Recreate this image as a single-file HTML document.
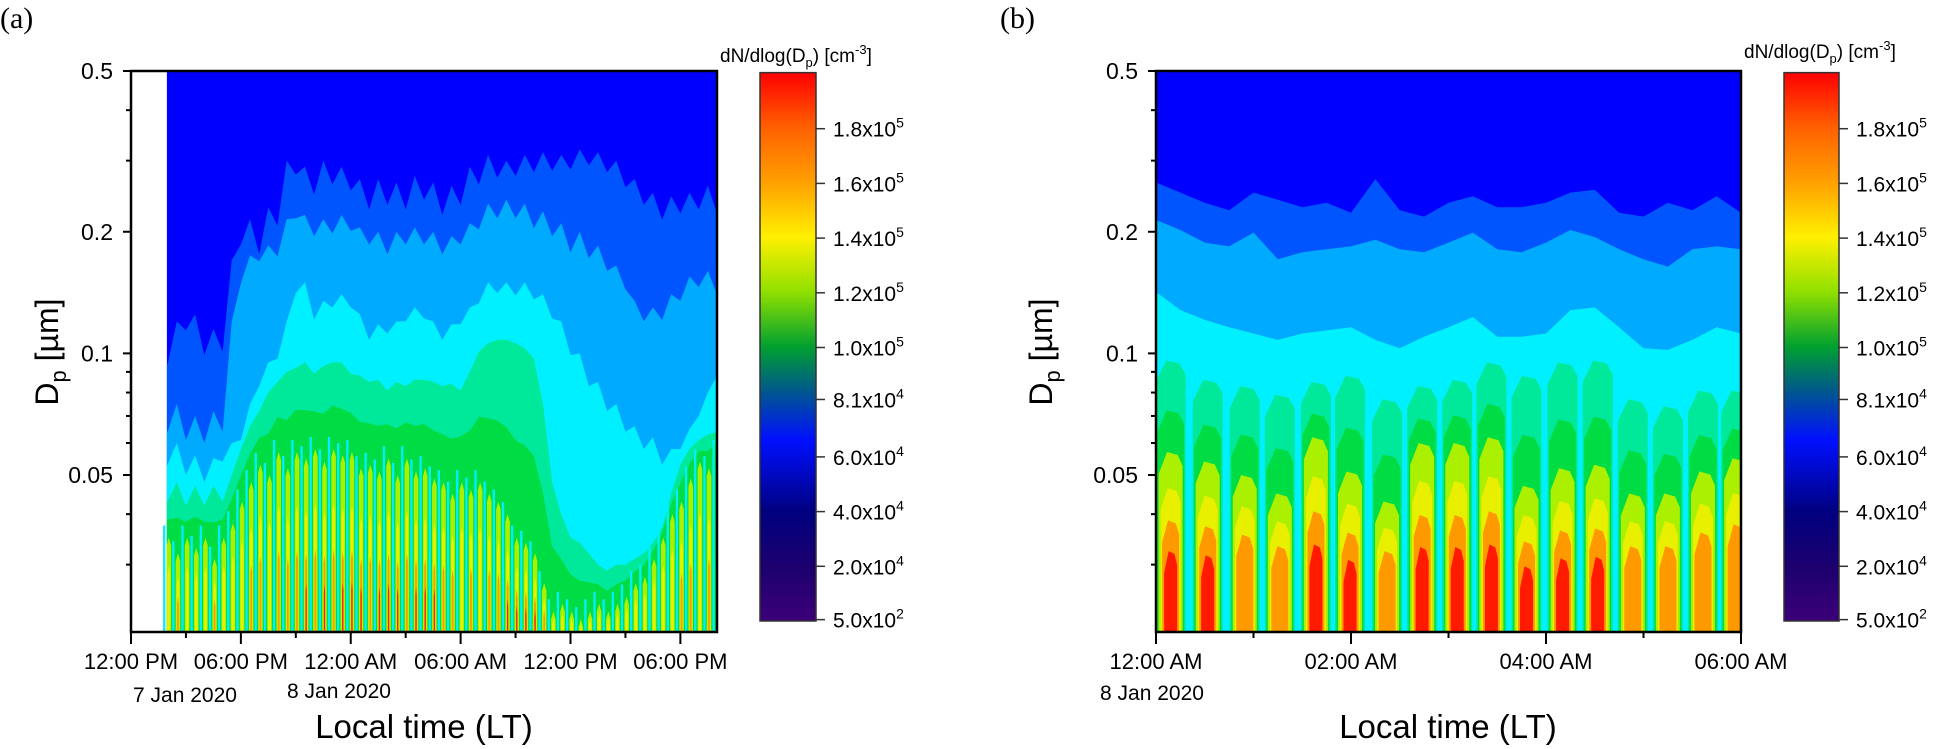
<!DOCTYPE html>
<html><head><meta charset="utf-8">
<style>
html,body{margin:0;padding:0;background:#fff;}
svg{display:block;font-family:"Liberation Sans",Arial,sans-serif;}
</style></head>
<body>
<svg id="fig" width="1933" height="749" viewBox="0 0 1933 749" xmlns="http://www.w3.org/2000/svg">
<defs>
<clipPath id="clipA"><rect x="131" y="71" width="586" height="561"/></clipPath>
<clipPath id="clipB"><rect x="1156" y="71" width="585" height="561"/></clipPath>
<linearGradient id="cmap" x1="0" y1="1" x2="0" y2="0">
<stop offset="0" stop-color="#3c0078"/>
<stop offset="0.1" stop-color="#1c006e"/>
<stop offset="0.2" stop-color="#000080"/>
<stop offset="0.33" stop-color="#0010ff"/>
<stop offset="0.42" stop-color="#00588c"/>
<stop offset="0.5" stop-color="#00a030"/>
<stop offset="0.6" stop-color="#90e000"/>
<stop offset="0.7" stop-color="#fff000"/>
<stop offset="0.8" stop-color="#ffa000"/>
<stop offset="0.9" stop-color="#ff6000"/>
<stop offset="1" stop-color="#ff0000"/>
</linearGradient>
</defs>
<g id="layerA" clip-path="url(#clipA)"></g>
<g id="layerB" clip-path="url(#clipB)"></g>
<g id="axes"></g>
<text x="0" y="28" font-family="Liberation Serif, serif" font-size="30">(a)</text>
<text x="1000" y="28" font-family="Liberation Serif, serif" font-size="30">(b)</text>
</svg>
<script>
// ---------- Panel (a) data: half-hour samples from t=2h (hours after 12:00 PM 7 Jan) ----------
const bound1A = [.094,.120,.114,.125,.099,.115,.101,.170,.186,.215,.176,.230,.207,.300,.277,.290,.247,.300,.262,.290,.253,.270,.227,.270,.233,.265,.227,.275,.240,.265,.220,.260,.233,.290,.262,.310,.272,.300,.275,.310,.281,.315,.283,.310,.285,.320,.292,.315,.281,.300,.258,.270,.233,.250,.214,.245,.222,.250,.227,.260,.222];
const bound2A = [.064,.075,.061,.070,.060,.072,.064,.120,.149,.175,.169,.185,.174,.215,.216,.220,.195,.215,.198,.220,.201,.205,.186,.200,.176,.200,.186,.205,.186,.200,.176,.195,.186,.210,.203,.235,.216,.240,.216,.235,.204,.225,.195,.210,.178,.200,.172,.185,.160,.165,.144,.135,.120,.130,.121,.140,.135,.155,.146,.160,.140];
const bound3A = [.053,.060,.050,.056,.048,.055,.054,.060,.061,.075,.083,.095,.097,.120,.141,.150,.121,.135,.130,.140,.130,.125,.108,.118,.112,.120,.120,.130,.122,.120,.108,.118,.118,.130,.133,.150,.141,.150,.139,.150,.136,.140,.122,.120,.099,.100,.083,.085,.072,.075,.064,.066,.058,.062,.053,.058,.058,.065,.070,.080,.088];
const bound4A = [.043,.048,.042,.047,.042,.047,.043,.050,.058,.066,.072,.080,.085,.090,.092,.095,.089,.093,.095,.095,.089,.088,.085,.086,.081,.085,.083,.086,.086,.085,.083,.084,.081,.090,.101,.106,.108,.108,.106,.103,.097,.075,.048,.040,.035,.034,.032,.030,.029,.030,.030,.031,.032,.034,.037,.045,.053,.058,.061,.063,.064];
const burstTopA = [.035,.032,.035,.033,.035,.031,.035,.038,.043,.048,.053,.050,.057,.052,.057,.055,.058,.054,.058,.056,.057,.052,.053,.051,.055,.050,.055,.051,.052,.049,.048,.045,.048,.046,.048,.045,.043,.040,.035,.034,.032,.027,.023,.024,.023,.022,.023,.024,.023,.024,.025,.027,.028,.031,.035,.040,.043,.049,.054,.052,.057];
const burstPeakA = [2,3,2,2,2,3,2,2,2,3, 3,2,3,3,3,4,3,4,3,4, 4,4,3,4,4,4,3,4,4,4, 3,3,2,3,2,3,3,4,4,4, 4,3,2,2,2,2,2,2,2,2, 2,2,2,2,2,2,3,3,2,3,3];
const startHourA = 2, stepA = 0.5;
const xTickLabelsA = ["12:00 PM","06:00 PM","12:00 AM","06:00 AM","12:00 PM","06:00 PM"];

// ---------- Panel (b) data: quarter-hour samples from 12:00 AM 8 Jan ----------
const bound1B = [.265,.250,.236,.226,.250,.240,.230,.236,.223,.270,.226,.218,.236,.245,.230,.230,.236,.250,.254,.223,.218,.236,.226,.245,.223];
const bound2B = [.214,.202,.188,.184,.199,.171,.178,.181,.184,.191,.181,.178,.188,.199,.181,.178,.188,.202,.194,.181,.171,.164,.181,.184,.181];
const bound3B = [.142,.128,.121,.116,.112,.108,.112,.114,.116,.108,.103,.110,.116,.123,.110,.110,.112,.128,.130,.116,.103,.102,.108,.116,.112];
const stepB = 0.25;
const burstTimesB = [0.15,0.53,0.91,1.27,1.64,1.99,2.37,2.73,3.09,3.44,3.80,4.17,4.53,4.89,5.25,5.61,5.95];
const burstAquaTopB = [.096,.086,.083,.079,.085,.088,.077,.083,.086,.095,.088,.095,.096,.077,.074,.081,.081];
const burstYgTopB = [.057,.054,.050,.045,.062,.051,.043,.060,.060,.062,.047,.052,.053,.045,.045,.051,.055];
const burstPeakB = [4,4,3,3,4,4,3,4,4,4,4,4,4,3,3,3,3];
const xTickLabelsB = ["12:00 AM","02:00 AM","04:00 AM","06:00 AM"];

// ---------- shared axis/colorbar data ----------
const yMajor = [0.5,0.2,0.1,0.05];
const yMajorLabels = ["0.5","0.2","0.1","0.05"];
const yMinor = [0.4,0.3,0.09,0.08,0.07,0.06,0.04,0.03];
const cbarVals = [500,20000,40000,60000,81000,100000,120000,140000,160000,180000];
const cbarMant = ["5.0","2.0","4.0","6.0","8.1","1.0","1.2","1.4","1.6","1.8"];
const cbarExp = ["2","4","4","4","4","5","5","5","5","5"];

const NS = "http://www.w3.org/2000/svg";
const C = {blue:"#0000ff",royal:"#0055ff",sky:"#00aaff",cyan:"#00f0ff",aqua:"#00e89a",green:"#00dd44",yg:"#aaf000",yellow:"#e8f000",orange:"#ff9900",red:"#ff1a00"};
const TOP=71, BOT=632;
function yScale(dp){return TOP + 404*Math.log10(0.5/dp);}
function xA(h){return 131 + h*(717-131)/32;}
function xB(h){return 1156 + h*(1741-1156)/6;}
function el(tag, attrs, parent){const e=document.createElementNS(NS,tag);for(const k in attrs)e.setAttribute(k,attrs[k]);parent.appendChild(e);return e;}

const LA=document.getElementById('layerA'), LB=document.getElementById('layerB'), AX=document.getElementById('axes');

function bandPoly(arr, t0, step, xf, color, parent, name, x0, x1){
  let pts=[[x0,BOT],[x0,yScale(arr[0])]];
  for(let i=0;i<arr.length;i++) pts.push([xf(t0+i*step), yScale(arr[i])]);
  pts.push([x1,yScale(arr[arr.length-1])],[x1,BOT]);
  const p=el('polygon',{points:pts.map(q=>q[0].toFixed(1)+','+q[1].toFixed(1)).join(' '),fill:color},parent);
  
  
}

// ---- Panel A ----
(function(){
  const x0=xA(startHourA-0.04), x1=717;
  const bg=el('rect',{x:x0,y:TOP,width:x1-x0,height:BOT-TOP,fill:C.blue},LA);
  
  
  bandPoly(bound1A,startHourA,stepA,xA,C.royal,LA,'band-royal-a',x0,x1);
  bandPoly(bound2A,startHourA,stepA,xA,C.sky,LA,'band-sky-a',x0,x1);
  bandPoly(bound3A,startHourA,stepA,xA,C.cyan,LA,'band-cyan-a',x0,x1);
  bandPoly(bound4A,startHourA,stepA,xA,C.aqua,LA,'band-aqua-a',x0,x1);
  const gTop=bound4A.map((v,i)=>Math.sqrt(v*burstTopA[i]));
  bandPoly(gTop,startHourA,stepA,xA,C.green,LA,'band-green-a',x0,x1);
  const w=xA(stepA)-xA(0);
  const lvl=[C.yg,C.yellow,C.orange,C.red], frac=[0,0.3,0.55,0.72], wid=[0.5,0.3,0.2,0.14];
  for(let i=0;i<burstTopA.length;i++){
    const t=startHourA+i*stepA, xl=xA(t)-w/2;
    const yT=yScale(burstTopA[i]);
    const g=el('rect',{x:xl,y:yT-12,width:w*0.25,height:BOT-yT+12,fill:C.cyan},LA);
    
    
    const cx=xl+w*0.25+w*0.38;
    for(let k=0;k<burstPeakA[i];k++){
      const yk=yT+(BOT-yT)*frac[k], ww=w*wid[k];
      const p=el('polygon',{points:`${cx-ww/2},${BOT} ${cx-ww/2},${yk+8} ${cx},${yk} ${cx+ww/2},${yk+8} ${cx+ww/2},${BOT}`,fill:lvl[k]},LA);
      
      
    }
  }
})();

// ---- Panel B ----
(function(){
  const x0=1156,x1=1741;
  const bg=el('rect',{x:x0,y:TOP,width:x1-x0,height:BOT-TOP,fill:C.blue},LB);
  
  
  bandPoly(bound1B,0,stepB,xB,C.royal,LB,'band-royal-b',x0,x1);
  bandPoly(bound2B,0,stepB,xB,C.sky,LB,'band-sky-b',x0,x1);
  bandPoly(bound3B,0,stepB,xB,C.cyan,LB,'band-cyan-b',x0,x1);
  const lvl=[C.aqua,C.green,C.yg,C.yellow,C.orange,C.red];
  const wid=[30,27,24,20,17,13];
  for(let j=0;j<burstTimesB.length;j++){
    const cx=xB(burstTimesB[j]);
    const yA=yScale(burstAquaTopB[j]), yY=yScale(burstYgTopB[j]);
    const tops=[yA,(yA+yY)/2+4,yY,yY+(BOT-yY)*0.2,yY+(BOT-yY)*0.38,yY+(BOT-yY)*0.55];
    const n=2+burstPeakB[j];
    for(let k=0;k<n;k++){
      const ww=wid[k], yk=tops[k];
      const p=el('polygon',{points:`${cx-ww/2},${BOT} ${cx-ww/2},${yk+22} ${cx-ww*0.15},${yk} ${cx+ww*0.3},${yk+3} ${cx+ww/2},${yk+14} ${cx+ww/2},${BOT}`,fill:lvl[k]},LB);
      
      
    }
  }
})();

// ---- Axes ----
function frame(x0,x1,name){
  const r=el('rect',{x:x0,y:TOP,width:x1-x0,height:BOT-TOP,fill:'none',stroke:'#000','stroke-width':2.5},AX);
  
  
}
function yAxis(xa, labelX, titleX, name){
  yMajor.forEach((v,i)=>{
    const y=yScale(v);
    el('line',{x1:xa-8,x2:xa,y1:y,y2:y,stroke:'#000','stroke-width':2},AX);
    const t=el('text',{x:labelX,y:y+8,'font-size':23,'text-anchor':'end'},AX);
    t.textContent=yMajorLabels[i];
    
    
  });
  yMinor.forEach(v=>{const y=yScale(v);el('line',{x1:xa-5,x2:xa,y1:y,y2:y,stroke:'#000','stroke-width':2},AX);});
  const tt=el('text',{x:titleX,y:352,'font-size':32,'text-anchor':'middle',transform:`rotate(-90 ${titleX} 352)`},AX);
  tt.innerHTML='D<tspan font-size="22" dy="8">p</tspan><tspan dy="-8"> [µm]</tspan>';
  
  
}
frame(131,717,'plot-frame-a');
frame(1156,1741,'plot-frame-b');
yAxis(131,113,58,'y-axis-a');
yAxis(1156,1138,1052,'y-axis-b');

for(let h=0;h<=32;h+=3){
  const x=xA(h), major=(h%6===0);
  el('line',{x1:x,x2:x,y1:BOT,y2:BOT+(major?12:6),stroke:'#000','stroke-width':2},AX);
}
xTickLabelsA.forEach((s,i)=>{
  const t=el('text',{x:xA(i*6),y:669,'font-size':22,'text-anchor':'middle'},AX);
  t.textContent=s;
  
  
});
[["7 Jan 2020",185,702],["8 Jan 2020",339,698]].forEach(d=>{
  const t=el('text',{x:d[1],y:d[2],'font-size':21,'text-anchor':'middle'},AX);
  t.textContent=d[0];
  
  
});
for(let h=0;h<=6;h+=1){
  const x=xB(h), major=(h%2===0);
  el('line',{x1:x,x2:x,y1:BOT,y2:BOT+(major?12:6),stroke:'#000','stroke-width':2},AX);
}
xTickLabelsB.forEach((s,i)=>{
  const t=el('text',{x:xB(i*2),y:669,'font-size':22,'text-anchor':'middle'},AX);
  t.textContent=s;
  
  
});
(function(){
  const t=el('text',{x:1152,y:700,'font-size':21,'text-anchor':'middle'},AX);
  t.textContent="8 Jan 2020";
  
  
})();
[[424,'x-axis-title-a'],[1448,'x-axis-title-b']].forEach(d=>{
  const t=el('text',{x:d[0],y:738,'font-size':33,'text-anchor':'middle'},AX);
  t.textContent="Local time (LT)";
  
  
});

function cbY(v){return 621 - v*0.002735;}
function colorbar(x0,x1,titleX,titleY,name){
  const r=el('rect',{x:x0,y:cbY(200500),width:x1-x0,height:cbY(0)-cbY(200500),fill:'url(#cmap)',stroke:'#333','stroke-width':1.5},AX);
  
  
  cbarVals.forEach((v,i)=>{
    const y=cbY(v);
    el('line',{x1:x1,x2:x1+9,y1:y,y2:y,stroke:'#333','stroke-width':1.5},AX);
    const t=el('text',{x:x1+17,y:y+8,'font-size':21},AX);
    t.innerHTML=cbarMant[i]+'x10<tspan font-size="14" dy="-9">'+cbarExp[i]+'</tspan>';
    
    
  });
  const tt=el('text',{x:titleX,y:titleY,'font-size':19},AX);
  tt.innerHTML='dN/dlog(D<tspan font-size="13" dy="5">p</tspan><tspan dy="-5">) [cm</tspan><tspan font-size="13" dy="-8">-3</tspan><tspan dy="8">]</tspan>';
  
  
}
colorbar(760,816,720,62,'colorbar-a');
colorbar(1784,1839,1744,58,'colorbar-b');
</script>
</body></html>
